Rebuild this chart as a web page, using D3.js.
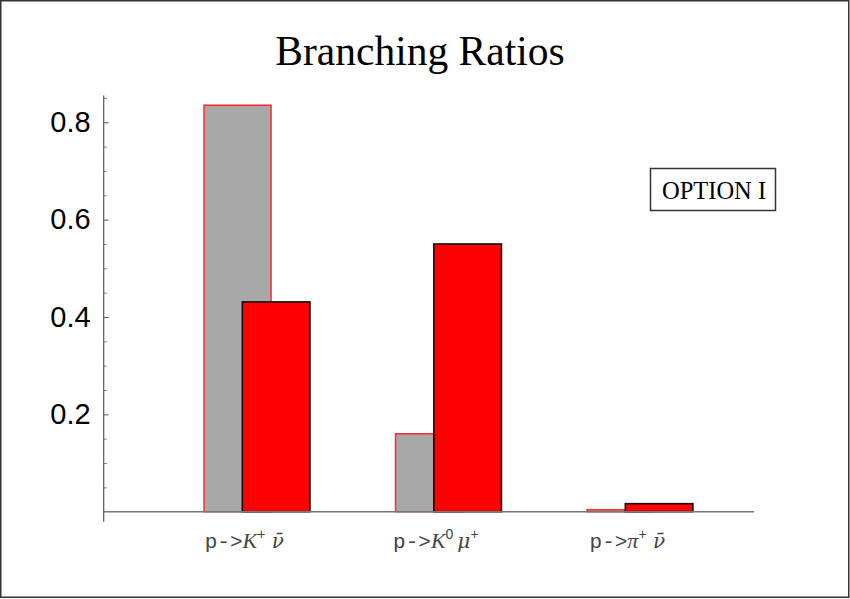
<!DOCTYPE html>
<html>
<head>
<meta charset="utf-8">
<script src="https://cdn.jsdelivr.net/npm/d3@7/dist/d3.min.js"></script>
<style>
  body { margin: 0; background: #fff; }
  svg { display: block; }
</style>
</head>
<body>
<script>
// データ
var categories = [1, 2, 3];
var grayValues = [0.835, 0.16, 0.004];
var redValues = [0.431, 0.55, 0.0165];
var yTicks = [0.2, 0.4, 0.6, 0.8];
var yMinorTicks = [0.05, 0.1, 0.15, 0.25, 0.3, 0.35, 0.45, 0.5, 0.55, 0.65, 0.7, 0.75, 0.85];
// ラベル: [p->, 主記号, 上付き, 後続記号, 後続上付き]
var labelParts = [
    ["p->", "K", "+", " \u03bd\u0304", ""],
    ["p->", "K", "0", "\u2009\u03bc", "+"],
    ["p->", "\u03c0", "+", " \u03bd\u0304", ""]
];

var width = 850;
var height = 599;

var svg = d3.select("body")
    .append("svg")
    .attr("width", width)
    .attr("height", height);

// 外枠
svg.append("rect")
    .attr("x", 0.75).attr("y", 0.75)
    .attr("width", 848).attr("height", 596.5)
    .attr("fill", "#fff")
    .attr("stroke", "#333")
    .attr("stroke-width", 1.5);

// スケール
var x = d3.scaleLinear().domain([0.276, 3.672]).range([103.7, 754]);
var y = d3.scaleLinear().domain([0, 0.855]).range([511.7, 95.5]);

// タイトル
svg.append("text")
    .attr("x", 420).attr("y", 65)
    .attr("text-anchor", "middle")
    .attr("font-family", "'Liberation Serif', 'Times New Roman', serif")
    .attr("font-size", 41.5)
    .text("Branching Ratios");

// 灰色の棒（先に描画）
svg.selectAll(".gray")
    .data(categories)
    .enter()
    .append("rect")
    .attr("class", "gray")
    .attr("x", d => x(d - 0.2))
    .attr("width", d => x(d + 0.15) - x(d - 0.2))
    .attr("y", (d, i) => y(grayValues[i]))
    .attr("height", (d, i) => y(0) - y(grayValues[i]))
    .attr("fill", "#a8a8a8")
    .attr("stroke", "#ff2a2a")
    .attr("stroke-width", 1.5);

// 赤い棒
svg.selectAll(".red")
    .data(categories)
    .enter()
    .append("rect")
    .attr("class", "red")
    .attr("x", d => x(d))
    .attr("width", d => x(d + 0.353) - x(d))
    .attr("y", (d, i) => y(redValues[i]))
    .attr("height", (d, i) => y(0) - y(redValues[i]))
    .attr("fill", "#ff0000")
    .attr("stroke", "#111")
    .attr("stroke-width", 1.6);

// x軸の線
svg.append("line")
    .attr("x1", x.range()[0]).attr("x2", x.range()[1])
    .attr("y1", y(0)).attr("y2", y(0))
    .attr("stroke", "#777")
    .attr("stroke-width", 1.4);

// y軸
svg.append("line")
    .attr("x1", 103.7).attr("x2", 103.7)
    .attr("y1", y.range()[1]).attr("y2", y(0) + 10)
    .attr("stroke", "#555")
    .attr("stroke-width", 1.2);

var yAxis = svg.append("g")
    .attr("transform", "translate(103.7,0)")
    .call(d3.axisLeft(y).tickValues(yTicks).tickSizeInner(-5).tickSizeOuter(0).tickPadding(13).tickFormat(d3.format(".1f")));
yAxis.select(".domain").remove();
yAxis.selectAll("line").attr("stroke", "#555");
yAxis.selectAll("text")
    .attr("font-family", "'Liberation Sans', Arial, sans-serif")
    .attr("font-size", 29)
    .attr("fill", "#000");

var yMinor = svg.append("g")
    .attr("transform", "translate(103.7,0)")
    .call(d3.axisLeft(y).tickValues(yMinorTicks).tickSizeInner(-3).tickSizeOuter(0).tickFormat(""));
yMinor.select(".domain").remove();
yMinor.selectAll("line").attr("stroke", "#777");

// カテゴリラベル
var labels = svg.selectAll(".cat")
    .data(categories)
    .enter()
    .append("text")
    .attr("class", "cat")
    .attr("x", d => x(d) + 2)
    .attr("y", 548)
    .attr("text-anchor", "middle")
    .attr("fill", "#444")
    .attr("font-size", 22);

labels.each(function(d, i) {
    var t = d3.select(this);
    var p = labelParts[i];
    t.append("tspan")
        .attr("font-family", "'Liberation Mono', 'Courier New', monospace")
        .attr("font-size", 21)
        .text(p[0]);
    t.append("tspan")
        .attr("font-family", "'Liberation Serif', serif")
        .attr("font-style", "italic")
        .text(p[1]);
    t.append("tspan")
        .attr("font-family", "'Liberation Sans', sans-serif")
        .attr("font-size", 14)
        .attr("dy", -9)
        .text(p[2]);
    t.append("tspan")
        .attr("font-family", "'DejaVu Serif', serif")
        .attr("font-style", "italic")
        .attr("font-size", 20)
        .attr("dy", 9)
        .text(p[3]);
    if (p[4]) {
        t.append("tspan")
            .attr("font-family", "'Liberation Sans', sans-serif")
            .attr("font-size", 14)
            .attr("dy", -9)
            .text(p[4]);
    }
});

// 凡例ボックス
svg.append("rect")
    .attr("x", 650.5).attr("y", 168.5)
    .attr("width", 125).attr("height", 42)
    .attr("fill", "#fff")
    .attr("stroke", "#333")
    .attr("stroke-width", 1.5);
svg.append("text")
    .attr("x", 714).attr("y", 199)
    .attr("text-anchor", "middle")
    .attr("font-family", "'Liberation Serif', 'Times New Roman', serif")
    .attr("font-size", 24.5)
    .text("OPTION I");
</script>
</body>
</html>
